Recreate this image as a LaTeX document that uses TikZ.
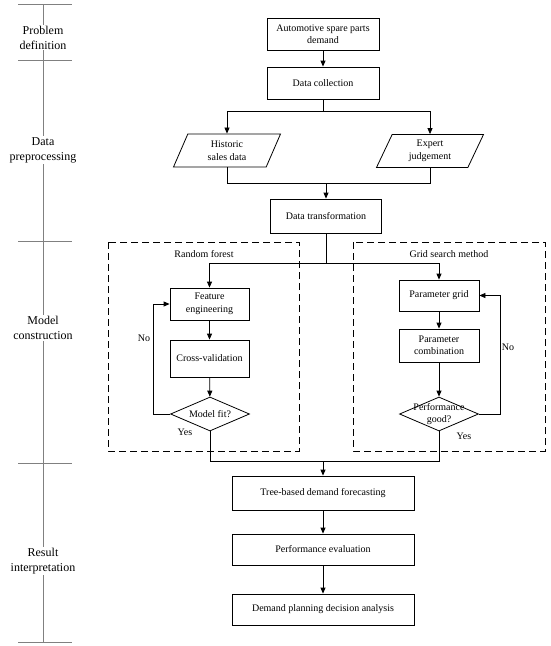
\documentclass[tikz,border=0pt]{standalone}
\usepackage{fontspec}
\setmainfont{Liberation Serif}
\usetikzlibrary{arrows.meta,positioning,shapes.geometric,calc}

\begin{document}
\begin{tikzpicture}[x=1pt,y=-1pt, every node/.style={font=\fontsize{10}{12.5}\selectfont,align=center}, box/.style={draw,line width=0.8pt,inner sep=1pt}, para/.style={draw,line width=0.8pt,trapezium,trapezium left angle=56,trapezium right angle=124,trapezium stretches body,minimum width=107pt,minimum height=33pt,inner sep=1pt}, diam/.style={draw,line width=0.8pt,diamond,inner sep=0pt,aspect=2.3,minimum width=79pt,minimum height=34pt}, arr/.style={-{Triangle[length=6pt,width=5pt]},line width=0.8pt}, conn/.style={line width=0.8pt}, dashbox/.style={draw,line width=0.8pt,dash pattern=on 7pt off 4pt}, phase/.style={gray,line width=0.6pt}, stage/.style={fill=white,font=\fontsize{12}{15}\selectfont,inner sep=1pt}]
  \useasboundingbox (0,0) rectangle (550,646);
  \draw[phase] (43,4) -- (43,642);
  \foreach \y in {4,60,241,463,642}
    \draw[phase] (18,\y) -- (72,\y);
  \node[stage] (def) at (43,37.5) {Problem\\definition};
  \node[stage] (prep) at (43,150) {Data\\preprocessing};
  \node[stage] (cons) at (43,328) {Model\\construction};
  \node[stage] (interp) at (43,561) {Result\\interpretation};

  \node[box,minimum width=112pt,minimum height=32pt] (demand) at (323,34) {Automotive spare parts\\demand};
  \node[box,minimum width=112pt,minimum height=32pt] (coll) at (323,83) {Data collection};
  \node[para] (hist) at (227,150.5) {Historic\\sales data};
  \node[para] (expert) at (430,151) {Expert\\judgement};
  \node[box,minimum width=111pt,minimum height=34pt] (trans) at (326,216) {Data transformation};

  \draw[dashbox] (108,242) rectangle (299,451);
  \draw[dashbox] (353,242) rectangle (545,451);
  \node (rf) at (204,254) {Random forest};
  \node (gs) at (449,254) {Grid search method};

  \node[box,minimum width=79pt,minimum height=32pt] (fe) at (209.5,304) {Feature\\engineering};
  \node[box,minimum width=79pt,minimum height=37pt] (cv) at (209.5,358.5) {Cross-validation};
  \node[diam] (fit) at (210,414) {Model fit?};
  \node[box,minimum width=80pt,minimum height=31pt] (pg) at (439,295.5) {Parameter grid};
  \node[box,minimum width=80pt,minimum height=33pt] (pc) at (439,345.5) {Parameter\\combination};
  \node[diam] (good) at (439,414) {};
  \node[font=\fontsize{10}{12}\selectfont] (goodtxt) at (good) {Performance\\good?};

  \node[box,minimum width=182pt,minimum height=34pt] (tree) at (323,493) {Tree-based demand forecasting};
  \node[box,minimum width=182pt,minimum height=31pt] (eval) at (323,549.5) {Performance evaluation};
  \node[box,minimum width=182pt,minimum height=31pt] (plan) at (323,609.5) {Demand planning decision analysis};

  \draw[arr] (demand) -- (coll);
  \draw[arr] (coll.south) -- ++(0,12) -| (hist.north);
  \draw[arr] (coll.south) -- ++(0,12) -| (expert.north);
  \draw[conn] (hist.south) -- ++(0,16) coordinate (m1) -| (expert.south);
  \draw[arr] (m1 -| trans.north) -- (trans.north);
  \draw[conn] (trans.south) -- ++(0,30) coordinate (s1);
  \draw[arr] (s1) -| (fe.north);
  \draw[arr] (s1) -| (pg.north);
  \draw[arr] (fe) -- (cv);
  \draw[arr] (cv) -- (fit);
  \draw[arr] (fit.west) -- ++(-17,0) |- (fe.west);
  \node (no1) at (144,338) {No};
  \node (yes1) at (185,432) {Yes};
  \draw[arr] (pg) -- (pc);
  \draw[arr] (pc) -- (good);
  \draw[arr] (good.east) -- ++(21,0) |- (pg.east);
  \node (no2) at (508,347) {No};
  \node (yes2) at (464,436) {Yes};
  \draw[conn] (fit.south) -- ++(0,30) coordinate (m2) -| (good.south);
  \draw[arr] (m2 -| tree.north) -- (tree.north);
  \draw[arr] (tree) -- (eval);
  \draw[arr] (eval) -- (plan);
\end{tikzpicture}
\end{document}
